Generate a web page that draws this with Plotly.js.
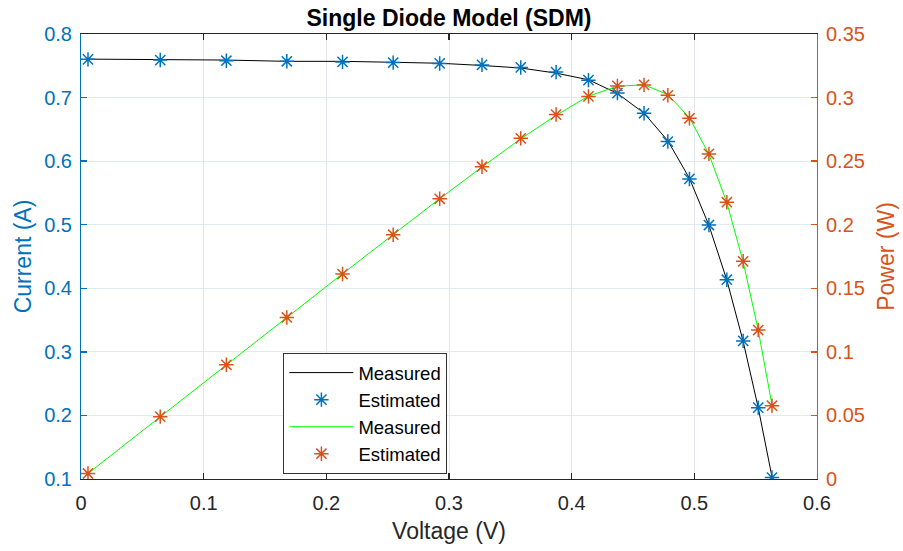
<!DOCTYPE html>
<html>
<head>
<meta charset="utf-8">
<script src="https://cdn.plot.ly/plotly-3.0.1.min.js"></script>
<style>html,body{margin:0;padding:0;background:#fff;}#chart{width:903px;height:551px;}</style>
</head>
<body>
<div id="chart"></div>
<script>
const voltage = [0.0057, 0.0646, 0.1185, 0.1678, 0.2132, 0.2545, 0.2924, 0.3269, 0.3585, 0.3873,
                 0.4137, 0.4373, 0.4590, 0.4784, 0.4960, 0.5119, 0.5265, 0.5398, 0.5521, 0.5633];
const currentMeasured = [0.7605, 0.7600, 0.7590, 0.7570, 0.7570, 0.7555, 0.7540, 0.7505, 0.7465, 0.7385,
                         0.7280, 0.7065, 0.6755, 0.6320, 0.5730, 0.4990, 0.4130, 0.3165, 0.2120, 0.1035];
const currentEstimated = [0.7601, 0.7590, 0.7580, 0.7571, 0.7561, 0.7550, 0.7537, 0.7514, 0.7474, 0.7401,
                          0.7274, 0.7070, 0.6753, 0.6308, 0.5720, 0.4995, 0.4135, 0.3172, 0.2122, 0.1023];
const powerMeasured = [0.00433, 0.04910, 0.08994, 0.12702, 0.16139, 0.19227, 0.22047, 0.24534, 0.26762, 0.28602,
                       0.30117, 0.30895, 0.31005, 0.30235, 0.28421, 0.25544, 0.21744, 0.17085, 0.11705, 0.05830];
const powerEstimated = [0.00433, 0.04903, 0.08982, 0.12704, 0.16120, 0.19215, 0.22038, 0.24563, 0.26794, 0.28664,
                        0.30093, 0.30917, 0.30996, 0.30177, 0.28371, 0.25569, 0.21771, 0.17122, 0.11716, 0.05763];
const xTicks = [0, 0.1, 0.2, 0.3, 0.4, 0.5, 0.6];
const yTicks = [0.1, 0.2, 0.3, 0.4, 0.5, 0.6, 0.7, 0.8];
const y2Ticks = [0, 0.05, 0.1, 0.15, 0.2, 0.25, 0.3, 0.35];

const BLUE = '#0072BD', ORANGE = '#D95319', DARK = '#262626';
const FONT = 'Liberation Sans, Arial, Helvetica, sans-serif';

const traces = [
  {x: voltage, y: currentMeasured, mode: 'lines', name: 'Measured',
   line: {color: '#000000', width: 1}, yaxis: 'y'},
  {x: voltage, y: currentEstimated, mode: 'markers', name: 'Estimated',
   marker: {symbol: 'asterisk-open', size: 12, color: BLUE, line: {color: BLUE, width: 1.5}}, yaxis: 'y'},
  {x: voltage, y: powerMeasured, mode: 'lines', name: 'Measured',
   line: {color: '#00FF00', width: 1}, yaxis: 'y2'},
  {x: voltage, y: powerEstimated, mode: 'markers', name: 'Estimated',
   marker: {symbol: 'asterisk-open', size: 12, color: ORANGE, line: {color: ORANGE, width: 1.5}}, yaxis: 'y2'}
];

const layout = {
  width: 903, height: 551,
  margin: {l: 81, r: 86, t: 34, b: 72},
  paper_bgcolor: '#ffffff', plot_bgcolor: '#ffffff',
  font: {family: FONT, color: DARK, size: 20},
  title: {text: '<b>Single Diode Model (SDM)</b>', font: {family: FONT, size: 23, color: '#000000'},
          x: 0.5, xanchor: 'center', y: 0.968, yanchor: 'middle', xref: 'paper'},
  showlegend: true,
  legend: {x: 0.275, y: 0.283, xanchor: 'left', yanchor: 'top',
           bgcolor: '#ffffff', bordercolor: '#333333', borderwidth: 1,
           itemwidth: 64,
           font: {family: FONT, size: 18.5, color: '#000000'}, tracegroupgap: 0},
  xaxis: {range: [0, 0.6], tickvals: xTicks, ticktext: xTicks.map(String),
          showline: true, linecolor: DARK, linewidth: 1, mirror: 'ticks',
          ticks: 'inside', ticklen: 6, tickcolor: DARK, tickwidth: 1.5,
          ticklabelstandoff: 6,
          showgrid: true, gridcolor: '#E3E6EA', gridwidth: 1, zeroline: false,
          tickfont: {family: FONT, size: 20, color: DARK},
          title: {text: 'Voltage (V)', font: {family: FONT, size: 23, color: DARK}, standoff: 9}},
  yaxis: {range: [0.1, 0.8], tickvals: yTicks, ticktext: yTicks.map(String),
          showline: true, linecolor: BLUE, linewidth: 1,
          ticks: 'inside', ticklen: 6, tickcolor: BLUE, tickwidth: 1.5,
          ticklabelstandoff: 4,
          showgrid: true, gridcolor: '#E3E9F0', gridwidth: 1, zeroline: false,
          tickfont: {family: FONT, size: 20, color: BLUE},
          title: {text: 'Current (A)', font: {family: FONT, size: 23, color: BLUE}, standoff: 6}},
  yaxis2: {range: [0, 0.35], tickvals: y2Ticks, ticktext: y2Ticks.map(String),
           overlaying: 'y', side: 'right',
           showline: true, linecolor: ORANGE, linewidth: 1,
           ticks: 'inside', ticklen: 6, tickcolor: ORANGE, tickwidth: 1.5,
           ticklabelstandoff: 4,
           showgrid: false, zeroline: false,
           tickfont: {family: FONT, size: 20, color: ORANGE},
           title: {text: 'Power (W)', font: {family: FONT, size: 23, color: ORANGE}, standoff: 13}}
};

Plotly.newPlot('chart', traces, layout, {displayModeBar: false, staticPlot: true});
</script>
</body>
</html>
